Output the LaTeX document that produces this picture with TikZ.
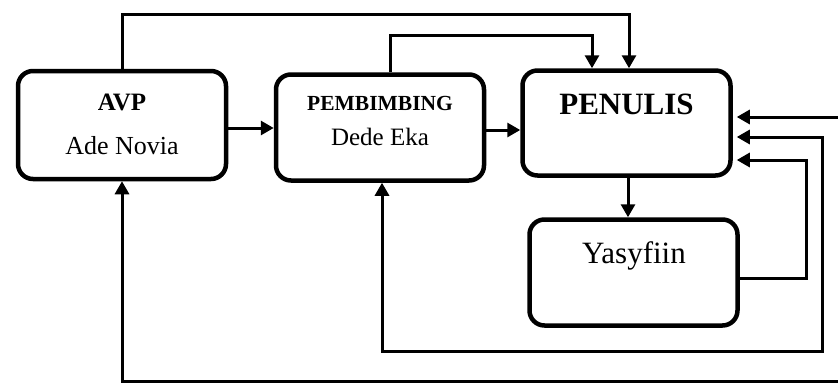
\documentclass[tikz,border=0pt]{standalone}
\usepackage{fontspec}
\setmainfont{Liberation Serif}
\usepackage{tikz}
\usetikzlibrary{arrows.meta, calc}

\begin{document}
\begin{tikzpicture}[x=1pt, y=-1pt,
    box/.style={draw, line width=4.5pt, rounded corners=15pt, minimum width=208pt, minimum height=108pt, inner sep=0pt},
    link/.style={line width=3pt, -{Triangle[length=13pt,width=14pt]}},
    both/.style={line width=3pt, {Triangle[length=13pt,width=14pt]}-{Triangle[length=13pt,width=14pt]}},
    txt/.style={anchor=base, inner sep=0pt, font=\fontsize{#1}{#1}\selectfont},
    head/.style={anchor=base, inner sep=0pt, font=\fontsize{#1}{#1}\selectfont\bfseries}]
            \useasboundingbox (0,0) rectangle (838,383);
            \clip (0,0) rectangle (838,383);
            % boxes
            \node[box] (avp) at (122,125) {};
            \node[box, minimum height=106pt] (pemb) at (380,127.5) {};
            \node[box, minimum height=105pt] (penulis) at (626.5,123) {};
            \node[box, minimum height=106pt] (yasy) at (633.5,272.5) {};
            % texts
            \node[head=25] (avpT) at (122,110) {AVP};
            \node[txt=26] (avpS) at (122,154) {Ade Novia};
            \node[head=21.5] (pembT) at (380,110) {PEMBIMBING};
            \node[txt=25] (pembS) at (380,145) {Dede Eka};
            \node[head=31] (penT) at (626.5,114) {PENULIS};
            \node[txt=31] (yasT) at (634,263) {Yasyfiin};
            % helper points
            \coordinate (topA) at (629,14);
            \coordinate (topB) at (592,35);
            \coordinate (rB) at (822,351);
            \coordinate (rC) at (855,381);
            \path (penulis.east) ++(0,-6) coordinate (inA);
            \path (penulis.east) ++(0,14) coordinate (inB);
            \path (penulis.east) ++(0,37) coordinate (inC);
            % connectors
            \draw[link] (avp.north) |- (topA) -- (topA |- penulis.north);
            \draw[link] ([xshift=10pt]pemb.north) |- (topB) -- (topB |- penulis.north);
            \draw[link] ([yshift=-3pt]avp.east) -- ([yshift=-3pt]avp.east -| pemb.west);
            \draw[link] ([yshift=-2.5pt]pemb.east) -- ([yshift=-2.5pt]pemb.east -| penulis.west);
            \draw[link] ([xshift=1.5pt]penulis.south) -- ([xshift=1.5pt]penulis.south |- yasy.north);
            \draw[link, shorten >=4pt] ([yshift=-5.5pt]yasy.east) -- ++(67,0) |- (inC);
            \draw[both, shorten >=4pt] ([xshift=2pt]pemb.south) |- (rB) |- (inB);
            \draw[both, shorten >=4pt] (avp.south) |- (rC) |- (inA);
\end{tikzpicture}
\end{document}
